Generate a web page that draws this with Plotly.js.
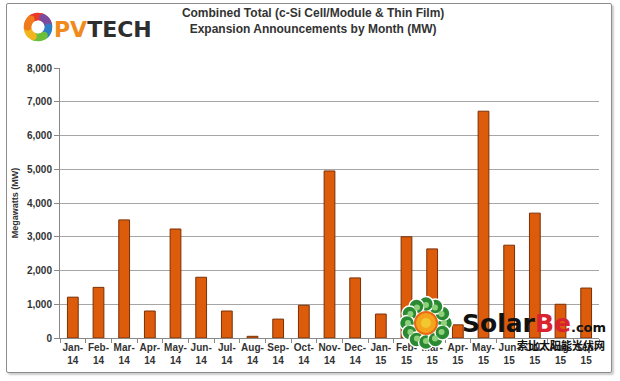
<!DOCTYPE html>
<html><head><meta charset="utf-8">
<script src="https://cdn.plot.ly/plotly-3.0.1.min.js"></script>
<style>
body{margin:0;padding:0;background:#fff;}
#chart{width:620px;height:381px;}
#frame{position:absolute;left:6px;top:3px;width:604px;height:368px;border:1px solid #8c8c8c;border-radius:2px;box-shadow:2px 2px 2px #ccc;pointer-events:none;}
</style></head>
<body>
<div id="chart"></div>
<div id="frame"></div>
<script>
var months = ["Jan-<br>14","Feb-<br>14","Mar-<br>14","Apr-<br>14","May-<br>14","Jun-<br>14","Jul-<br>14","Aug-<br>14","Sep-<br>14","Oct-<br>14","Nov-<br>14","Dec-<br>14","Jan-<br>15","Feb-<br>15","Mar-<br>15","Apr-<br>15","May-<br>15","Jun-<br>15","Jul-<br>15","Aug-<br>15","Sep-<br>15"];
var megawatts = [1210,1500,3500,800,3230,1800,800,50,560,970,4950,1780,710,3000,2640,390,6720,2750,3700,1000,1480];

var f = "Liberation Sans, Arial, sans-serif";
var trace = {
  type:"bar", x:months, y:megawatts,
  marker:{color:"#dd5c0c", line:{color:"#7a3005", width:1}},
  width:0.42, hoverinfo:"none"
};
function dot(ax,ay,cx,cy,r,color,lc,lw){
  return {type:"circle", xref:"paper", yref:"paper", xsizemode:"pixel", ysizemode:"pixel",
    xanchor:ax, yanchor:ay, x0:cx-r, x1:cx+r, y0:cy-r, y1:cy+r,
    fillcolor:color, line:{color:lc||color, width:lw===undefined?0:lw}, layer:"above"};
}
var shapes=[];
// PVTECH ring logo
var ringCols=["#e8392b","#7d4b9e","#2e7fc6","#6cbf3a","#f2b51d","#f07a1c"];
var N=40;
for(var i=0;i<N;i++){
  var a=Math.PI/2 - i*2*Math.PI/N + 0.6;
  var col=ringCols[Math.floor(i*ringCols.length/N)];
  shapes.push(dot(0,1,-22+10.5*Math.cos(a),41+10.5*Math.sin(a),3.8,col));
}
// watermark flower
var FX=0.679, FY=0, FCY=15;
var petals=12;
for(var k=0;k<petals;k++){
  var b=k*2*Math.PI/petals;
  shapes.push(dot(FX,FY,19*Math.cos(b),FCY+19*Math.sin(b),7.5,"#2a8a34","#ffffff",1.5));
}
for(var k2=0;k2<petals;k2++){
  var b2=k2*2*Math.PI/petals;
  shapes.push(dot(FX,FY,18*Math.cos(b2),FCY+18*Math.sin(b2),3,"#8fd07a"));
}
shapes.push(dot(FX,FY,0,FCY,11,"#f5a31c","#e86a14",2));
shapes.push(dot(FX,FY,0,FCY,5,"#f0c830"));

var layout = {
  width:620, height:381,
  margin:{l:60, r:21, t:68, b:43},
  paper_bgcolor:"#ffffff", plot_bgcolor:"#ffffff",
  showlegend:false, bargap:0.58,
  font:{family:f, color:"#333333"},
  title:{text:"Combined Total (c-Si Cell/Module &amp; Thin Film)<br>Expansion Announcements by Month (MW)",
    font:{family:f, size:12, color:"#333333", weight:700}, x:0.505, xanchor:"center", y:0.955, yanchor:"top"},
  xaxis:{type:"category", tickfont:{family:f, size:10, color:"#333", weight:700}, ticks:"outside", tickson:"boundaries",
    ticklen:4, tickcolor:"#888", showline:true, linecolor:"#888", linewidth:1, tickangle:0, automargin:false},
  yaxis:{range:[0,8000], dtick:1000, tickformat:",", tickfont:{family:f, size:10, color:"#333", weight:700},
    ticks:"outside", ticklen:5, tickcolor:"#888", showline:true, linecolor:"#888", linewidth:1,
    showgrid:true, gridcolor:"#a6a6a6", gridwidth:1, zeroline:false, automargin:false,
    title:{text:"Megawatts (MW)", font:{family:f, size:9, color:"#333", weight:700}, standoff:6}},
  shapes:shapes,
  annotations:[
    {text:"<b><span style='color:#f08a1c'>PV</span>TECH</b>", xref:"paper", yref:"paper", x:-0.014, y:1.141, xanchor:"left", yanchor:"middle", showarrow:false,
     font:{family:"DejaVu Sans, sans-serif", size:22, color:"#2e2e2e"}},
    {text:"<b>Solar<span style='color:#d9232d'>Be</span><span style='font-size:13px'>.com</span></b>", xref:"paper", yref:"paper", x:0.742, y:0.052, xanchor:"left", yanchor:"middle", showarrow:false,
     font:{family:"DejaVu Sans, sans-serif", size:25, color:"#111"}},
    {text:"<b>索比太阳能光伏网</b>", xref:"paper", yref:"paper", x:1.015, y:-0.026, xanchor:"right", yanchor:"middle", showarrow:false,
     font:{family:"Noto Sans CJK SC, sans-serif", size:11, color:"#111"}}
  ]
};
Plotly.newPlot("chart",[trace],layout,{displayModeBar:false, staticPlot:true});
</script>
</body></html>
